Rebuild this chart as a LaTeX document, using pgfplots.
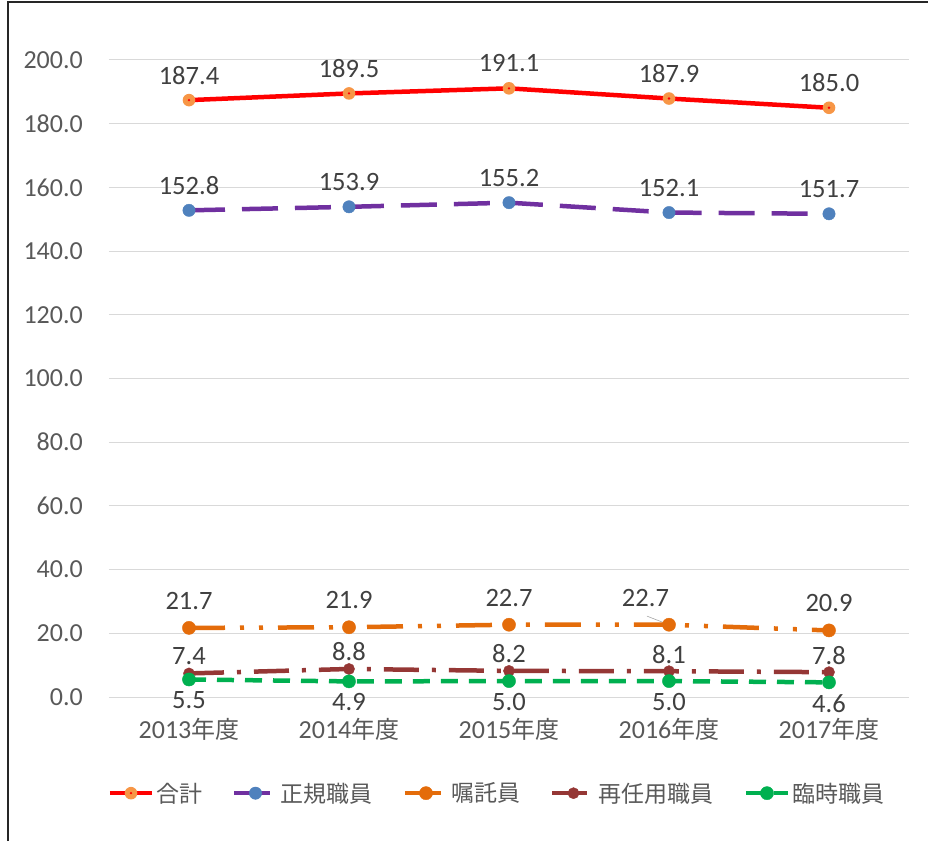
\documentclass[border=0pt]{standalone}
\usepackage{pgfplots}
\pgfplotsset{compat=1.18}
\usepackage{fontspec}
\setmainfont{Carlito}
\newfontfamily\cjk{Noto Sans CJK JP}
\definecolor{cRed}{HTML}{FF0000}
\definecolor{cMk}{HTML}{F79646}
\definecolor{cPurple}{HTML}{7030A0}
\definecolor{cBlue}{HTML}{4F81BD}
\definecolor{cOrange}{HTML}{E46C0A}
\definecolor{cBrown}{HTML}{953735}
\definecolor{cGreen}{HTML}{00B050}
\definecolor{cTick}{HTML}{595959}
\definecolor{cLab}{HTML}{404040}
\definecolor{cGrid}{HTML}{D9D9D9}
\pgfdeclareplotmark{dotcirc}{%
  \pgfpathcircle{\pgfpointorigin}{\pgfplotmarksize}%
  \pgfsetfillcolor{cMk}\pgfusepathqfill
  \pgfpathcircle{\pgfpointorigin}{1.3pt}%
  \pgfsetfillcolor{cRed}\pgfusepathqfill}
\newcommand{\nen}{{\cjk\fontsize{24}{28}\selectfont 年度}}
\begin{document}
\begin{tikzpicture}
\useasboundingbox (-109pt,-144pt) rectangle (819pt,697pt);
\draw[line width=1.6pt, black!85] (-101pt,-144pt) -- (-101pt,695pt) -- (819pt,695pt);
\begin{axis}[
  at={(0,0)}, anchor=south west,
  scale only axis, width=800pt, height=637pt,
  xmin=-0.5, xmax=4.5, ymin=0, ymax=200,
  xtick={0,1,2,3,4},
  xticklabels={2013\nen,2014\nen,2015\nen,2016\nen,2017\nen},
  ytick={0,20,40,60,80,100,120,140,160,180,200},
  ymajorgrids, grid style={draw=cGrid, line width=1pt},
  axis line style={draw=none}, tick style={draw=none},
  tick label style={font=\fontsize{26}{30}\selectfont, text=cTick},
  yticklabel style={inner sep=0pt, anchor=east, xshift=-26pt},
  xticklabel style={inner sep=0pt, anchor=north, yshift=-21pt},
  clip=false,
  line join=round,
  every node near coord/.append style={anchor=center, inner sep=0pt, font=\fontsize{26.5}{30}\selectfont, text=cLab},
  legend columns=5,
  legend style={at={(0.485,-0.151)}, anchor=center, draw=none, fill=none,
    font=\cjk\fontsize{23}{27}\selectfont, text=cTick,
    /tikz/every even column/.append style={column sep=28pt}},
  legend image code/.code={\draw[mark repeat=2,mark phase=2,#1] plot coordinates {(0pt,0pt)(21pt,0pt)(42pt,0pt)};},
  /pgf/number format/fixed, /pgf/number format/fixed zerofill,
  /pgf/number format/precision=1, /pgf/number format/assume math mode=true,
]
\addplot[color=cRed, line width=4.5pt, mark=dotcirc, mark size=6.3pt, nodes near coords,
  every node near coord/.append style={yshift=25pt}] coordinates {
  (0,187.4) (1,189.5) (2,191.1) (3,187.9) (4,185.0)};
\addlegendentry{合計}
\addplot[color=cPurple, line width=4.5pt, dash pattern=on 36pt off 17pt,
  mark=*, mark size=6.2pt, mark options={solid, line width=0.4pt, fill=cBlue, draw=cBlue},
  nodes near coords,
  every node near coord/.append style={yshift=25pt}] coordinates {
  (0,152.8) (1,153.9) (2,155.2) (3,152.1) (4,151.7)};
\addlegendentry{正規職員}
% leader line of the 2016 label of 嘱託員
\addplot[forget plot, color=gray!70, line width=0.6pt, mark=none]
  coordinates {(2.862,25.4) (3,22.7)};
\addplot[color=cOrange, line width=4.5pt, dash pattern=on 36pt off 15pt on 4pt off 15pt on 4pt off 15pt,
  mark=*, mark size=6.6pt, mark options={solid, line width=0.4pt, fill=cOrange, draw=cOrange}]
  coordinates {(0,21.7) (1,21.9) (2,22.7) (3,22.7) (4,20.9)};
\addlegendentry{嘱託員}
\addplot[color=cBrown, line width=4.5pt, dash pattern=on 35pt off 13pt on 4pt off 13pt,
  mark=*, mark size=5.6pt, mark options={solid, line width=0.4pt, fill=cBrown, draw=cBrown},
  nodes near coords,
  every node near coord/.append style={yshift=17pt}] coordinates {
  (0,7.4) (1,8.8) (2,8.2) (3,8.1) (4,7.8)};
\addlegendentry{再任用職員}
\addplot[color=cGreen, line width=4.5pt, dash pattern=on 17pt off 11pt,
  mark=*, mark size=6.6pt, mark options={solid, line width=0.4pt, fill=cGreen, draw=cGreen},
  nodes near coords,
  every node near coord/.append style={yshift=-21pt}] coordinates {
  (0,5.5) (1,4.9) (2,5.0) (3,5.0) (4,4.6)};
\addlegendentry{臨時職員}
% labels of 嘱託員 (the 2016 label sits left of its point)
\addplot[forget plot, draw=none, mark=none, nodes near coords,
  every node near coord/.append style={yshift=27pt}]
  coordinates {(0,21.7) (1,21.9) (2,22.7) (2.853,22.7) (4,20.9)};
\end{axis}
\end{tikzpicture}
\end{document}
